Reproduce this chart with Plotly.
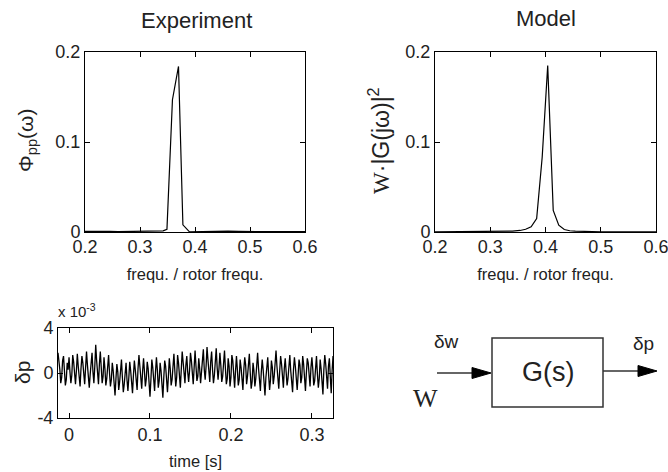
"""Experiment vs model spectrum with time trace and block diagram."""
import plotly.graph_objects as go

W_PX, H_PX = 668, 472

# Experiment: power spectrum of pressure fluctuation
exp_freq = [0.200, 0.215, 0.230, 0.245, 0.260, 0.280, 0.300, 0.320, 0.335, 0.342,
            0.349, 0.359, 0.370, 0.378, 0.390, 0.400, 0.420, 0.440, 0.460, 0.480,
            0.500, 0.520, 0.540, 0.560, 0.580, 0.600]
exp_psd = [0.0008, 0.0009, 0.0014, 0.0007, 0.0004, 0.0004, 0.0005, 0.0006, 0.0008, 0.0012,
           0.0030, 0.1470, 0.1840, 0.0080, 0.0002, 0.0004, 0.0007, 0.0013, 0.0009, 0.0006,
           0.0005, 0.0007, 0.0006, 0.0005, 0.0004, 0.0004]

# Model: W * |G(jw)|^2
mod_freq = [0.200, 0.250, 0.300, 0.320, 0.340, 0.354, 0.364, 0.374, 0.384, 0.394,
            0.404, 0.414, 0.424, 0.434, 0.444, 0.454, 0.474, 0.500, 0.550, 0.600]
mod_psd = [0.0001, 0.0002, 0.0004, 0.0006, 0.0010, 0.0017, 0.0030, 0.0058, 0.0150, 0.0830,
           0.1850, 0.0240, 0.0075, 0.0028, 0.0014, 0.0009, 0.0005, 0.0003, 0.0001, 0.0001]

# Time trace of delta p (units of 1e-3)
t_start, t_step = -0.0136, 0.001136
dp = [
    1.8, 1.2, 0.3, -0.9, -0.4, 1.1, 1.5, 0.2, -1.1, -0.6, 0.9, 0.3, 1.4, 0.1, -0.9, -0.2, 1.6, 1.0, -0.5, -1.0,
    0.2, 1.7, 0.6, -0.8, -1.2, 0.4, 1.5, 0.9, -0.3, -1.0, 0.5, 1.9, 0.7, -0.7, -1.3, -0.1, 1.2, 1.8, 0.1, -0.9,
    0.6, 2.5, 1.1, -0.6, -1.0, 0.8, 1.9, 0.5, -0.9, -0.3, 1.4, 0.4, -1.1, -0.5, 1.0, 1.6, 0.0, -1.2, -0.6, 0.9,
    0.2, -1.4, -2.0, -0.5, 0.8, 0.1, -1.5, -0.8, 0.7, 1.2, -0.4, -1.7, -1.0, 0.3, 0.9, -0.6, -1.6, -0.4, 1.0, 0.2,
    -1.3, -1.8, -0.2, 1.1, 0.3, -1.0, -1.5, 0.4, 1.6, 0.6, -0.9, -1.4, 0.2, 1.3, 0.1, -1.2, -0.5, 1.0, 0.4, -1.5,
    -2.1, -0.6, 1.2, 0.5, -0.8, -1.6, 0.1, 1.4, 0.3, -1.3, -0.7, 0.9, 0.2, -1.5, -2.2, -0.4, 1.1, 0.6, -1.0, -1.7,
    -0.3, 1.3, 0.4, -1.1, -0.6, 0.8, 1.7, 0.2, -1.2, -0.4, 1.6, 0.9, -0.5, -1.3, 0.3, 1.9, 1.0, -0.4, -0.9, 0.7,
    1.5, 0.1, -0.8, 0.2, 1.8, 1.1, -0.2, -1.0, 0.5, 2.0, 0.6, -0.7, -0.3, 1.3, 0.4, -0.9, 0.1, 1.7, 2.1, 0.3,
    -0.6, 0.6, 2.3, 1.2, -0.4, -0.8, 1.0, 1.9, 0.3, -0.9, -0.2, 1.5, 2.2, 0.5, -0.6, 0.4, 1.8, 0.7, -0.8, -0.3,
    1.2, 2.0, 0.4, -1.0, -0.5, 1.3, 0.6, -1.2, -0.4, 1.6, 1.1, -0.7, -1.3, 0.2, 1.5, 0.3, -1.1, -0.6, 1.2, 0.5,
    -0.9, -1.5, 0.3, 1.4, 0.7, -1.0, -0.3, 1.1, 1.7, 0.0, -1.4, -0.8, 0.9, 0.2, -1.2, -0.5, 1.3, 1.8, 0.4, -1.1,
    -1.6, 0.1, 1.2, 0.3, -1.3, -2.0, -0.4, 1.0, 1.4, -0.2, -1.5, -0.6, 1.1, 0.5, -1.0, -0.3, 1.6, 2.0, 0.6, -0.9,
    -1.4, 0.2, 1.5, 0.8, -0.7, -1.3, 0.4, 1.3, 0.1, -1.1, -0.5, 1.0, 1.6, 0.2, -1.2, -1.7, 0.3, 1.4, 0.6, -0.8,
    -1.5, -0.2, 1.2, 0.7, -0.9, -0.4, 1.5, 0.8, -1.0, -1.6, 0.0, 1.3, 0.9, -0.6, -1.2, 0.5, 1.4, 0.3, -1.1, -0.7,
    1.0, 1.5, -0.1, -1.3, -0.5, 1.2, 0.4, -1.2, -1.9, 0.3, 1.6, 0.8, -0.7, -1.4, 0.6, 1.3, -0.3, -1.8, 0.2, 1.5,
]
t = [t_start + i * t_step for i in range(len(dp))]

# tick values / labels of the time-trace axes
time_ticks = [0, 0.1, 0.2, 0.3]
dp_ticks = [-4, 0, 4]
dp_ticklabels = ["-4", "0", "4"]

FONT = "Liberation Sans, Arial, sans-serif"
SERIF = "Liberation Serif, Times New Roman, serif"


def px(x):
    return x / W_PX


def py(y):
    return 1 - y / H_PX


line = dict(color="black", width=1.2)
fig = go.Figure()
fig.add_trace(go.Scatter(x=exp_freq, y=exp_psd, mode="lines", line=line, xaxis="x", yaxis="y"))
fig.add_trace(go.Scatter(x=mod_freq, y=mod_psd, mode="lines", line=line, xaxis="x2", yaxis="y2"))
fig.add_trace(go.Scatter(x=t, y=dp, mode="lines", line=dict(color="black", width=1.3),
                         xaxis="x3", yaxis="y3"))

ax = dict(showline=True, linecolor="black", linewidth=1, mirror="ticks", ticks="inside",
          ticklen=5, tickcolor="black", showgrid=False, zeroline=False, automargin=False,
          ticklabeloverflow="allow", tickfont=dict(family=FONT, size=18, color="#222"))
xt = dict(text="frequ. / rotor frequ.", font=dict(size=16.5), standoff=12)
fig.update_layout(
    width=W_PX, height=H_PX, showlegend=False,
    margin=dict(l=0, r=0, t=0, b=0),
    paper_bgcolor="white", plot_bgcolor="white",
    font=dict(family=FONT, color="#222"),
    xaxis=dict(ax, domain=[px(85), px(305)], range=[0.2, 0.6], dtick=0.1, anchor="y",
               title=xt, ticklabelstandoff=-2),
    yaxis=dict(ax, domain=[py(232), py(52)], range=[0, 0.2], dtick=0.1, anchor="x"),
    xaxis2=dict(ax, domain=[px(435), px(656)], range=[0.2, 0.6], dtick=0.1, anchor="y2",
                title=xt, ticklabelstandoff=-2),
    yaxis2=dict(ax, domain=[py(232), py(52)], range=[0, 0.2], dtick=0.1, anchor="x2"),
    xaxis3=dict(ax, domain=[px(58), px(333)], range=[-0.0136, 0.326], tickvals=time_ticks,
                anchor="y3", title=dict(text="time [s]", font=dict(size=16.5), standoff=11),
                ticklabelstandoff=0),
    yaxis3=dict(ax, domain=[py(418), py(328)], range=[-4, 4], tickvals=dp_ticks,
                ticktext=dp_ticklabels, anchor="x3"),
)

ann = [
    dict(x=px(196), y=py(20), text="Experiment", font=dict(size=22)),
    dict(x=px(546), y=py(18), text="Model", font=dict(size=22)),
    dict(x=px(27), y=py(140), text="Φ<sub>pp</sub>(ω)", textangle=-90, font=dict(size=21)),
    dict(x=px(379), y=py(140),
         text="<span style='font-family:Liberation Serif'>W</span>·|G(jω)|<sup>2</sup>",
         textangle=-90, font=dict(size=23)),
    dict(x=px(22), y=py(373), text="δp", textangle=-90, font=dict(size=21)),
    dict(x=px(56), y=py(310), text="x 10<sup>-3</sup>", xanchor="left", font=dict(size=15)),
    dict(x=px(547.5), y=py(372), text="G(s)", font=dict(size=27)),
    dict(x=px(446), y=py(341), text="δw", font=dict(size=19)),
    dict(x=px(643), y=py(343), text="δp", font=dict(size=19)),
    dict(x=px(425), y=py(398), text="W", font=dict(family=SERIF, size=26)),
]
for a in ann:
    a.setdefault("xanchor", "center")
    fig.add_annotation(xref="paper", yref="paper", showarrow=False, yanchor="middle", **a)

# block diagram: box, input and output arrows
shapes = [
    dict(type="rect", x0=px(492), x1=px(603), y0=py(407), y1=py(338),
         line=dict(color="#333", width=1.5)),
    dict(type="line", x0=px(437), x1=px(474), y0=py(373), y1=py(373), line=dict(color="#333", width=1.5)),
    dict(type="path", path=f"M {px(472)} {py(367.5)} L {px(491)} {py(373)} L {px(472)} {py(378.5)} Z",
         fillcolor="black", line=dict(color="black", width=1)),
    dict(type="line", x0=px(603), x1=px(640), y0=py(371), y1=py(371), line=dict(color="#333", width=1.5)),
    dict(type="path", path=f"M {px(638)} {py(365.5)} L {px(657)} {py(371)} L {px(638)} {py(376.5)} Z",
         fillcolor="black", line=dict(color="black", width=1)),
]
for s in shapes:
    fig.add_shape(xref="paper", yref="paper", **s)

# the page body has a default 8px margin; drop it so the figure sits at the window corner
fig.write_html("out.html", config={"displayModeBar": False},
               post_script="document.body.style.margin='0';")
